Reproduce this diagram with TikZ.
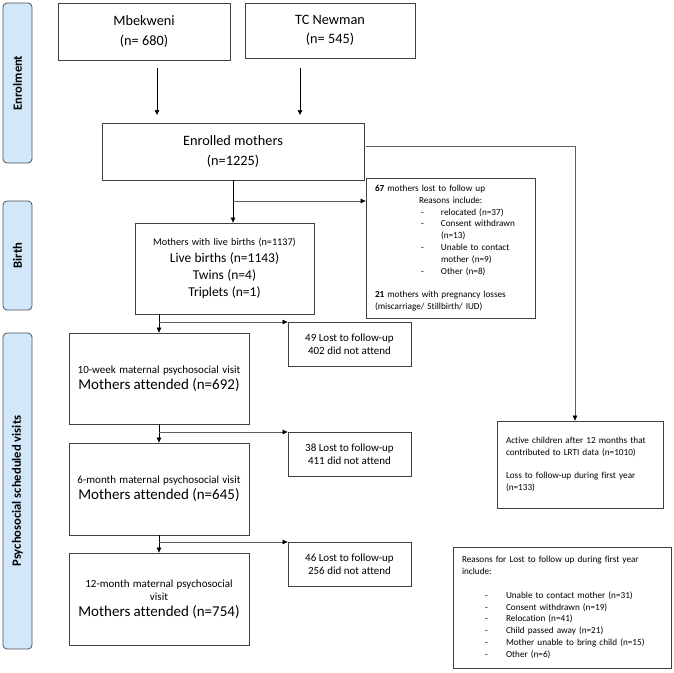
\documentclass[tikz,border=0pt]{standalone}
\usepackage{fontspec}
\setmainfont{Carlito}[Ligatures=NoCommon]
\usetikzlibrary{arrows.meta}
\definecolor{phasefill}{RGB}{210,232,250}
\definecolor{phaseline}{RGB}{75,80,90}
\definecolor{boxline}{RGB}{64,64,64}
\definecolor{branch}{RGB}{95,95,95}
\tikzset{
  box/.style={draw=boxline, line width=0.8pt, inner sep=0pt, align=center},
  tbox/.style={draw=boxline, line width=0.8pt, inner xsep=9pt, inner ysep=0pt, align=left},
  phase/.style={draw=phaseline, fill=phasefill, rounded corners=4pt, line width=0.8pt, inner sep=0pt},
  phasetext/.style={rotate=90, font=\fontsize{12.6}{15}\selectfont\bfseries},
  arr/.style={-{Triangle[length=5pt,width=4.5pt]}, line width=0.7pt, black},
  brarr/.style={-{Triangle[length=5pt,width=4.5pt,color=black,fill=black]}, line width=0.6pt, branch},
  bigtext/.style={font=\fontsize{14.3}{19.5}\selectfont},
  midtext/.style={font=\fontsize{11}{13}\selectfont},
  smalltext/.style={font=\fontsize{9.2}{11.8}\selectfont},
}
\newcommand{\smallf}{\fontsize{11}{13}\selectfont}
\newcommand{\bigf}{\fontsize{15}{16}\selectfont}
\begin{document}
\hyphenpenalty=10000
\begin{tikzpicture}[x=1pt,y=-1pt]
\useasboundingbox (0,0) rectangle (674,672);

% phase bars
\node[phase, minimum width=29pt, minimum height=160pt] (phEnrol) at (17.5,83) {};
\node[phasetext] (tEnrol) at (phEnrol) {Enrolment};
\node[phase, minimum width=29pt, minimum height=109pt] (phBirth) at (17.5,255.5) {};
\node[phasetext] (tBirth) at (phBirth) {Birth};
\node[phase, minimum width=29pt, minimum height=316pt] (phPsy) at (17.5,491) {};
\node[phasetext] (tPsy) at (phPsy) {Psychosocial scheduled visits};

% top boxes
\node[box, bigtext, minimum width=172pt, minimum height=57pt] (mbek) at (144,31.5) {Mbekweni\\(n= 680)};
\node[box, bigtext, minimum width=170pt, minimum height=55pt] (tcn) at (330,30.5) {TC Newman\\(n= 545)};
\node[box, bigtext, minimum width=262pt, minimum height=57pt] (enr) at (233,151.5) {Enrolled mothers\\(n=1225)};

\coordinate (a1s) at (157,68); \coordinate (a1e) at (157,115);
\coordinate (a2s) at (300,68); \coordinate (a2e) at (300,115);
\draw[arr] (a1s) -- (a1e);
\draw[arr] (a2s) -- (a2e);

% lost 67 box
\node[tbox, smalltext, text width=151pt, minimum height=140pt] (lost67) at (450.5,248) {%
\textbf{67} mothers lost to follow up\\
\hspace*{44pt}Reasons include:\\
\hspace*{46pt}\makebox[20pt][l]{-}relocated (n=37)\\
\hspace*{46pt}\makebox[20pt][l]{-}Consent withdrawn\\
\hspace*{66pt}(n=13)\\
\hspace*{46pt}\makebox[20pt][l]{-}Unable to contact\\
\hspace*{66pt}mother (n=9)\\
\hspace*{46pt}\makebox[20pt][l]{-}Other (n=8)\\[11.8pt]
\textbf{21} mothers with pregnancy losses\\
(miscarriage/ Stillbirth/ IUD)};

% birth box
\node[box, text width=179pt, minimum height=91pt] (birth) at (224.5,268.5) {%
\fontsize{10.2}{12}\selectfont Mothers with live births (n=1137)\par
\fontsize{13.5}{17}\selectfont Live births (n=1143)\\Twins (n=4)\\Triplets (n=1)\par};

% visit boxes
\node[box, text width=180pt, minimum height=91pt] (w10) at (159,378.5) {%
\smallf 10-week maternal psychosocial visit\par
\bigf Mothers attended (n=692)\par};
\node[box, text width=180pt, minimum height=92pt] (m6) at (159,489) {%
\smallf 6-month maternal psychosocial visit\par
\bigf Mothers attended (n=645)\par};
\node[box, text width=180pt, minimum height=92pt] (m12) at (159,599) {%
\smallf 12-month maternal psychosocial\\visit\par
\bigf Mothers attended (n=754)\par};

% lost boxes
\node[box, midtext, minimum width=123pt, minimum height=44pt] (l49) at (349.5,344) {49 Lost to follow-up\\402 did not attend};
\node[box, midtext, minimum width=123pt, minimum height=44pt] (l38) at (349.5,454) {38 Lost to follow-up\\411 did not attend};
\node[box, midtext, minimum width=123pt, minimum height=44pt] (l46) at (349.5,564) {46 Lost to follow-up\\256 did not attend};

% active children
\node[tbox, smalltext, text width=148pt, minimum height=87pt] (active) at (580,464.5) {%
Active children after 12 months that\\contributed to LRTI data (n=1010)\\[11.8pt]
Loss to follow-up during first year\\(n=133)};

% reasons box
\node[tbox, smalltext, text width=200pt, minimum height=121pt] (reasons) at (562,607.5) {%
Reasons for Lost to follow up during first year\\include:\\[11.8pt]
\hspace*{23pt}\makebox[21pt][l]{-}Unable to contact mother (n=31)\\
\hspace*{23pt}\makebox[21pt][l]{-}Consent withdrawn (n=19)\\
\hspace*{23pt}\makebox[21pt][l]{-}Relocation (n=41)\\
\hspace*{23pt}\makebox[21pt][l]{-}Child passed away (n=21)\\
\hspace*{23pt}\makebox[21pt][l]{-}Mother unable to bring child (n=15)\\
\hspace*{23pt}\makebox[21pt][l]{-}Other (n=6)};

% connectors
\draw[arr] (enr.south) -- (enr.south |- birth.north);
\coordinate (j1) at (233,201);
\draw[brarr] (j1) -- (j1 -| lost67.west);

\coordinate (c1) at (575,146);
\draw[brarr] ([xshift=1.5pt,yshift=5.5pt]enr.east) -- (c1) -- (c1 |- active.north);

\draw[arr] (w10.north |- birth.south) -- (w10.north);
\coordinate (j2) at (159,322);
\draw[brarr] (j2) -- (j2 -| l49.west);

\draw[arr] (w10.south) -- (m6.north);
\coordinate (j3) at (159,432);
\draw[brarr] (j3) -- (j3 -| l38.west);

\draw[arr] (m6.south) -- (m12.north);
\coordinate (j4) at (159,542);
\draw[brarr] (j4) -- (j4 -| l46.west);
\end{tikzpicture}
\end{document}
